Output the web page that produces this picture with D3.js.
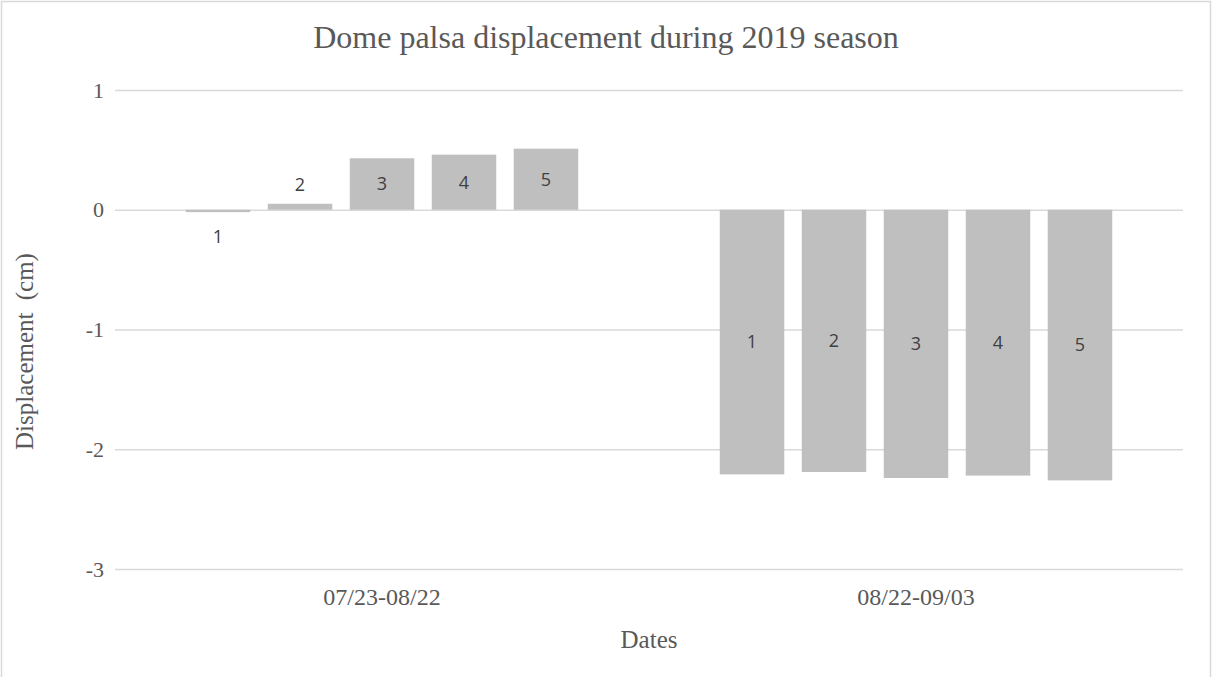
<!DOCTYPE html>
<html>
<head>
<meta charset="utf-8">
<script src="https://cdn.jsdelivr.net/npm/d3@7"></script>
<style>
  html, body { margin: 0; padding: 0; background: #fff; }
  svg { display: block; }
</style>
</head>
<body>
<svg id="chart" width="1212" height="677"></svg>
<script>
// Displacement measured at five points over two intervals of the 2019 season
const categories = ["07/23-08/22", "08/22-09/03"];
const seriesNames = ["1", "2", "3", "4", "5"];
const period1 = [-0.02, 0.05, 0.43, 0.46, 0.51];
const period2 = [-2.21, -2.19, -2.24, -2.22, -2.26];
const yTicks = [1, 0, -1, -2, -3];

const values = [period1, period2];

const W = 1212, H = 677;
const plot = { left: 115, right: 1183, top: 90, bottom: 569 };
const serif = "'Liberation Serif', 'Times New Roman', serif";

const svg = d3.select("#chart");

// chart border
svg.append("rect")
  .attr("x", 1.5).attr("y", 1.5)
  .attr("width", W - 3).attr("height", H + 10)
  .attr("fill", "none").attr("stroke", "#d9d9d9").attr("stroke-width", 1.5);

const y = d3.scaleLinear().domain([-3, 1]).range([plot.bottom, plot.top]);
const x0 = d3.scaleBand().domain(categories).range([plot.left, plot.right]);
const x1 = d3.scaleBand().domain(seriesNames)
  .range([0, x0.bandwidth()])
  .paddingInner(0.2134)
  .paddingOuter(0.863);

// gridlines and value axis labels
const yAxis = d3.axisLeft(y).tickValues(yTicks)
  .tickSize(-(plot.right - plot.left)).tickPadding(11)
  .tickFormat(d => String(d));
const gy = svg.append("g").attr("transform", `translate(${plot.left},0)`).call(yAxis);
gy.select(".domain").remove();
gy.selectAll(".tick line").attr("stroke", "#d9d9d9").attr("stroke-width", 1.3);
gy.selectAll(".tick text")
  .attr("fill", "#595959")
  .style("font-family", serif)
  .style("font-size", "22px");

// category labels
const xAxis = d3.axisBottom(x0).tickSize(0).tickPadding(19);
const gx = svg.append("g").attr("transform", `translate(0,${plot.bottom})`).call(xAxis);
gx.select(".domain").remove();
gx.selectAll(".tick text")
  .attr("fill", "#595959")
  .style("font-family", serif)
  .style("font-size", "24px");

// bars
const groups = svg.append("g").selectAll("g")
  .data(categories.map((c, i) => ({ cat: c, vals: values[i] })))
  .join("g")
  .attr("transform", d => `translate(${x0(d.cat)},0)`);

const bars = groups.selectAll("g.bar")
  .data(d => d.vals.map((v, j) => ({ name: seriesNames[j], v })))
  .join("g").attr("class", "bar");

bars.append("rect")
  .attr("x", d => x1(d.name))
  .attr("width", x1.bandwidth())
  .attr("y", d => y(Math.max(0, d.v)))
  .attr("height", d => Math.abs(y(d.v) - y(0)))
  .attr("fill", "#bfbfbf");

// value labels: centred in the bar, outside when the bar is too short
bars.append("text")
  .attr("x", d => x1(d.name) + x1.bandwidth() / 2)
  .attr("y", d => {
    const h = Math.abs(y(d.v) - y(0));
    if (h > 24) return (y(d.v) + y(0)) / 2;
    return d.v >= 0 ? y(d.v) - 19 : y(d.v) + 25;
  })
  .attr("dy", "0.35em")
  .attr("text-anchor", "middle")
  .attr("fill", "#404040")
  .style("font-family", "'Open Sans', 'Liberation Sans', sans-serif")
  .style("font-size", "18px")
  .text(d => d.name);

// title
svg.append("text")
  .attr("x", 606).attr("y", 48)
  .attr("text-anchor", "middle")
  .attr("fill", "#595959")
  .style("font-family", serif)
  .style("font-size", "32px")
  .text("Dome palsa displacement during 2019 season");

// axis titles
svg.append("text")
  .attr("x", (plot.left + plot.right) / 2).attr("y", 648)
  .attr("text-anchor", "middle")
  .attr("fill", "#595959")
  .style("font-family", serif)
  .style("font-size", "25px")
  .text("Dates");

svg.append("text")
  .attr("transform", `translate(33,${(plot.top + plot.bottom) / 2 + 22}) rotate(-90)`)
  .attr("text-anchor", "middle")
  .attr("fill", "#595959")
  .style("font-family", serif)
  .style("font-size", "25px")
  .style("word-spacing", "6px")
  .text("Displacement (cm)");
</script>
</body>
</html>
